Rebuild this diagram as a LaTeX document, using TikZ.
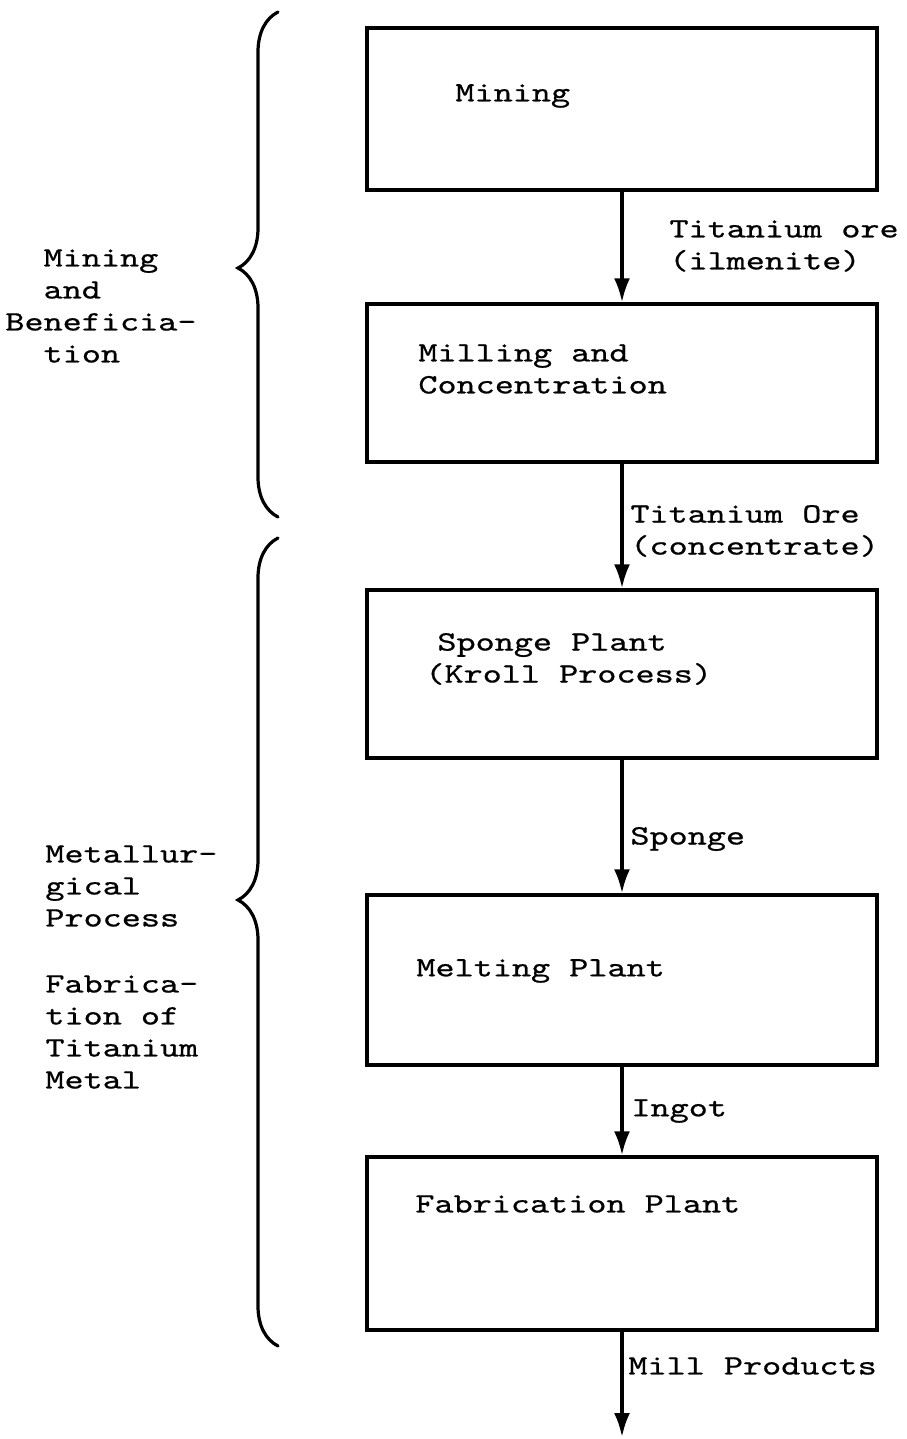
\documentclass[tikz,border=0pt]{standalone}
\usepackage{fontspec}
\setmonofont[FakeStretch=1.3, FakeBold=0.7]{lmmono10-regular.otf}
\usetikzlibrary{arrows.meta, positioning, decorations.pathreplacing}

\begin{document}
\begin{tikzpicture}[x=0.5pt, y=-0.5pt,
  stage/.style={draw, line width=1.7pt, minimum width=255pt, inner sep=0pt},
  txt/.style={anchor=west, align=left, inner sep=0pt, font=\fontsize{14}{16}\selectfont\ttfamily},
  flow/.style={-{Latex[length=12pt, width=8pt]}, line width=1.7pt},
  grp/.style={decorate, decoration={brace, amplitude=20pt, aspect=#1}, line width=1.6pt, line cap=round}
]
  \useasboundingbox (0,0) rectangle (906,1439);

  % process boxes
  \node[stage, minimum height=81pt] (mine) at (622,109) {};
  \node[stage, minimum height=79pt] (mill) at (622,383) {};
  \node[stage, minimum height=84pt] (sponge) at (622,674) {};
  \node[stage, minimum height=85pt] (melt) at (622,980) {};
  \node[stage, minimum height=86.5pt] (fab) at (622,1243.5) {};
  \coordinate (out) at (622,1437);

  % box texts
  \node[txt] (tmine) at (455,96) {Mining};
  \node[txt] (tmill) at (418,369) {Milling and\\Concentration};
  \node[txt] (tsponge) at (425,659) {\hspace*{6pt}Sponge Plant\\(Kroll Process)};
  \node[txt] (tmelt) at (416,971) {Melting Plant};
  \node[txt] (tfab) at (415,1204) {Fabrication Plant};

  % flows
  \draw[flow] (mine) -- (mill);
  \draw[flow] (mill) -- (sponge);
  \draw[flow] (sponge) -- (melt);
  \draw[flow] (melt) -- (fab);
  \draw[flow] (fab) -- (out);

  \node[txt] (lore) at (669,246) {Titanium ore\\(ilmenite)};
  \node[txt] (lconc) at (630,531) {Titanium Ore\\(concentrate)};
  \node[txt] (lsponge) at (630,839) {Sponge};
  \node[txt] (lingot) at (631,1111) {Ingot};
  \node[txt] (lmill) at (628,1366) {Mill Products};

  % stage groups
  \draw[grp=0.493] (278,517) -- (278,12);
  \draw[grp=0.552] (278,1346) -- (278,538);
  \node[txt] (gmine) at (5,306) {\hphantom{xx}Mining\\\hphantom{xx}and\\Beneficia-\\\hphantom{xx}tion};
  \node[txt] (gmetal) at (45,886) {Metallur-\\gical\\Process};
  \node[txt] (gfab) at (45,1032) {Fabrica-\\tion of\\Titanium\\Metal};
\end{tikzpicture}
\end{document}
